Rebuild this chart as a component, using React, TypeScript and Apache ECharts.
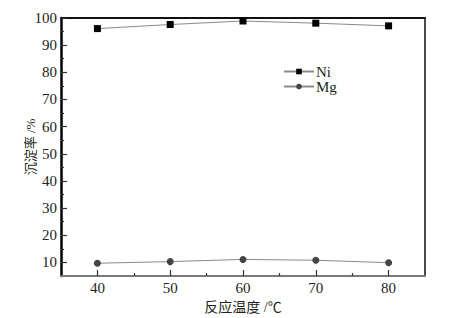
import React, { useEffect, useRef } from "react";
import * as echarts from "echarts";

const temperatures = [40, 50, 60, 70, 80];
const niValues = [96.1, 97.6, 98.9, 98.1, 97.1];
const mgValues = [9.7, 10.3, 11.1, 10.8, 9.9];
const xMajorTicks = [40, 50, 60, 70, 80];
const xMinorTicks = [45, 55, 65, 75];
const yMajorTicks = [10, 20, 30, 40, 50, 60, 70, 80, 90, 100];
const yMinorTicks = [15, 25, 35, 45, 55, 65, 75, 85, 95];

const SERIF = '"Liberation Serif", "Noto Sans CJK SC", serif';
const TEXT = "#231f20";

export default function App() {
  const ref = useRef<HTMLDivElement>(null);
  useEffect(() => {
    if (!ref.current) return;
    const chart = echarts.init(ref.current, undefined, { renderer: "svg" });
    const xBase = { type: "value", min: 35, max: 85, gridIndex: 0 };
    const yBase = { type: "value", min: 5, max: 100, gridIndex: 0 };
    chart.setOption({
      animation: false,
      backgroundColor: "#ffffff",
      grid: { left: 61, right: 33, top: 18, bottom: 42, show: false, containLabel: false, outerBoundsMode: "none" },
      legend: {
        orient: "vertical",
        left: 283,
        top: 64,
        padding: 0,
        itemWidth: 30,
        itemHeight: 7,
        itemGap: 0,
        data: ["Ni", "Mg"],
        textStyle: { fontFamily: SERIF, fontSize: 15, color: TEXT, padding: [0, 0, 0, -3] },
      },
      xAxis: [
        {
          ...xBase,
          position: "bottom",
          name: "反应温度 /℃",
          nameLocation: "middle",
          nameGap: 24,
          nameMoveOverlap: false,
          nameTextStyle: { fontFamily: SERIF, fontSize: 14, color: TEXT },
          axisLine: { show: true, lineStyle: { color: "#7a7a7a", width: 2 } },
          axisTick: { show: true, inside: true, length: 6, customValues: xMajorTicks, lineStyle: { color: "#333", width: 1.2 } },
          axisLabel: { customValues: xMajorTicks, fontFamily: SERIF, fontSize: 15, color: TEXT, margin: 4 },
          splitLine: { show: false },
        },
        {
          ...xBase,
          position: "bottom",
          axisLine: { show: false },
          axisTick: { show: true, inside: true, length: 3, customValues: xMinorTicks, lineStyle: { color: "#333", width: 1.2 } },
          axisLabel: { show: false },
          splitLine: { show: false },
        },
        {
          ...xBase,
          position: "top",
          axisLine: { show: true, lineStyle: { color: "#111", width: 2 } },
          axisTick: { show: false },
          axisLabel: { show: false },
          splitLine: { show: false },
        },
      ],
      yAxis: [
        {
          ...yBase,
          position: "left",
          name: "沉淀率 /%",
          nameLocation: "middle",
          nameGap: 24,
          nameMoveOverlap: false,
          nameRotate: 90,
          nameTextStyle: { fontFamily: SERIF, fontSize: 13, color: TEXT },
          axisLine: { show: true, lineStyle: { color: "#000", width: 2.5 } },
          axisTick: { show: true, inside: true, length: 6, customValues: yMajorTicks, lineStyle: { color: "#333", width: 1.2 } },
          axisLabel: { customValues: yMajorTicks, fontFamily: SERIF, fontSize: 15, color: TEXT, margin: 4 },
          splitLine: { show: false },
        },
        {
          ...yBase,
          position: "left",
          axisLine: { show: false },
          axisTick: { show: true, inside: true, length: 3, customValues: yMinorTicks, lineStyle: { color: "#333", width: 1.2 } },
          axisLabel: { show: false },
          splitLine: { show: false },
        },
        {
          ...yBase,
          position: "right",
          axisLine: { show: true, lineStyle: { color: "#111", width: 1.5 } },
          axisTick: { show: false },
          axisLabel: { show: false },
          splitLine: { show: false },
        },
      ],
      series: [
        {
          name: "Ni",
          type: "line",
          xAxisIndex: 0,
          yAxisIndex: 0,
          data: temperatures.map((t, i) => [t, niValues[i]]),
          symbol: "rect",
          symbolSize: 7,
          itemStyle: { color: "#000" },
          lineStyle: { color: "#8a8a8a", width: 1 },
        },
        {
          name: "Mg",
          type: "line",
          xAxisIndex: 0,
          yAxisIndex: 0,
          data: temperatures.map((t, i) => [t, mgValues[i]]),
          symbol: "circle",
          symbolSize: 7,
          itemStyle: { color: "#444" },
          lineStyle: { color: "#8a8a8a", width: 1 },
        },
      ],
    });
    return () => chart.dispose();
  }, []);
  return <div ref={ref} style={{ width: 458, height: 318, position: "absolute", left: 0, top: 0 }} />;
}
